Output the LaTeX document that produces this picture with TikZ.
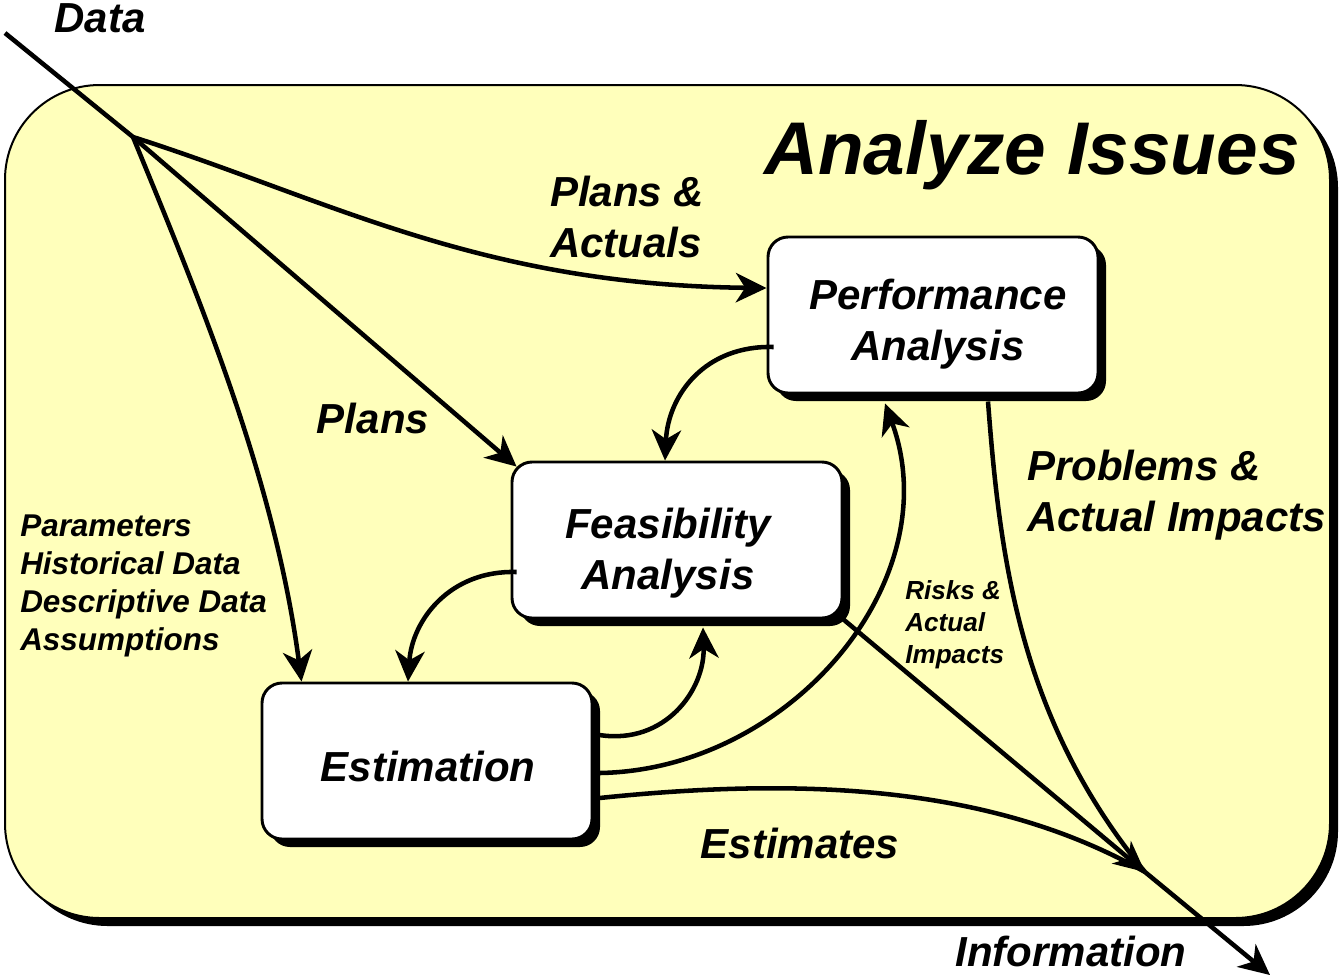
\documentclass[tikz,border=0pt]{standalone}
\usepackage{fontspec}
\setmainfont{Liberation Sans}
\usetikzlibrary{arrows.meta,shadows}
\definecolor{issueyellow}{RGB}{255,255,187}
\tikzset{
  flow/.style={line width=3.4pt,-{Stealth[length=23pt,width=22pt,inset=7pt]}},
  plainflow/.style={line width=3.4pt},
  taskbox/.style={draw,line width=2.2pt,fill=white,rounded corners=15pt,
    minimum width=247.5pt,minimum height=117pt,
    drop shadow={shadow xshift=6pt,shadow yshift=-6pt,fill=black,opacity=1}},
  boxtext/.style={inner sep=0pt,align=center,font=\bfseries\itshape\fontsize{31.5}{38}\selectfont},
  biglabel/.style={inner sep=0pt,align=left,font=\bfseries\itshape\fontsize{31.5}{38}\selectfont},
  titlelabel/.style={inner sep=0pt,font=\bfseries\itshape\fontsize{56}{60}\selectfont},
  inputlabel/.style={inner sep=0pt,align=left,font=\bfseries\itshape\fontsize{23.6}{28.7}\selectfont},
  risklabel/.style={inner sep=0pt,align=left,font=\bfseries\itshape\fontsize{19.6}{24}\selectfont}
}
\begin{document}
\begin{tikzpicture}[x=0.75pt,y=-0.75pt]
  \useasboundingbox (0,0) rectangle (1341,976);
  % Background panel
  \fill[black,rounded corners=71pt] (13,93) rectangle (1338,926);
  \filldraw[fill=issueyellow,draw=black,line width=1.5pt,rounded corners=71pt] (5,85) rectangle (1330,918);
  % Tasks
  \node[taskbox] (perf) at (933,315) {};
  \node[taskbox] (feas) at (677,540) {};
  \node[taskbox] (est)  at (427,761) {};
  \node[boxtext] (perftxt) at ([shift={(5,9)}]perf.center) {Performance\\Analysis};
  \node[boxtext] (feastxt) at ([shift={(-9,13)}]feas.center) {Feasibility\\Analysis};
  \node[boxtext] (esttxt)  at ([shift={(1,5)}]est.center) {Estimation};
  % Labels
  \node[titlelabel] (title) at (1032,155) {Analyze Issues};
  \node[biglabel] (datalbl) at (100,18) {Data};
  \node[biglabel,anchor=west] (plansact) at (550,217) {Plans \&\\Actuals};
  \node[biglabel] (planslbl) at (373,418) {Plans};
  \node[biglabel,anchor=west] (problbl) at (1027,495) {Problems \&\\Actual Impacts};
  \node[biglabel] (estlbl) at (800,843) {Estimates};
  \node[biglabel,anchor=base] (infolbl) at (1071,966) {Information};
  \node[inputlabel,anchor=west] (inputs) at (20,586) {Parameters\\Historical Data\\Descriptive Data\\Assumptions};
  \node[risklabel,anchor=west] (risklbl) at (905,625) {Risks \&\\Actual\\Impacts};
  % In and out points
  \coordinate (datain)  at (5,33);
  \coordinate (hub)     at (133,137);
  \coordinate (sink)    at (1145,872);
  \coordinate (dataout) at (1270,975);
  % Data fanning out
  \draw[plainflow] (datain) -- (hub);
  \draw[flow] (hub) .. controls (330,200) and (480,285) .. ([shift={(0,-27)}]perf.west);
  \draw[flow] (hub) -- ([shift={(6,6)}]feas.north west);
  \draw[flow] (hub) .. controls (200,300) and (275,480) .. ([shift={(41,0)}]est.north west);
  % Between tasks
  \draw[flow] ([shift={(7,32)}]perf.west) .. controls (705,345) and (668,395) .. ([shift={(-12,0)}]feas.north);
  \draw[flow] ([shift={(6,32)}]feas.west) .. controls (450,570) and (412,620) .. ([shift={(-19,0)}]est.north);
  \draw[flow] ([shift={(6,-26)}]est.east) .. controls (665,745) and (705,690) .. ([shift={(26,8)}]feas.south);
  \draw[flow] ([shift={(6,12)}]est.east) .. controls (790,770) and (950,580) .. ([shift={(-48,9)}]perf.south);
  % Towards information
  \draw[plainflow] ([shift={(6,37)}]est.east) .. controls (820,775) and (1000,790) .. (sink);
  \draw[plainflow] ([shift={(55,7)}]perf.south) .. controls (1000,560) and (1020,720) .. (sink);
  \draw[flow] (feas.south east) -- (sink);
  \draw[flow] (sink) -- (dataout);
\end{tikzpicture}
\end{document}
